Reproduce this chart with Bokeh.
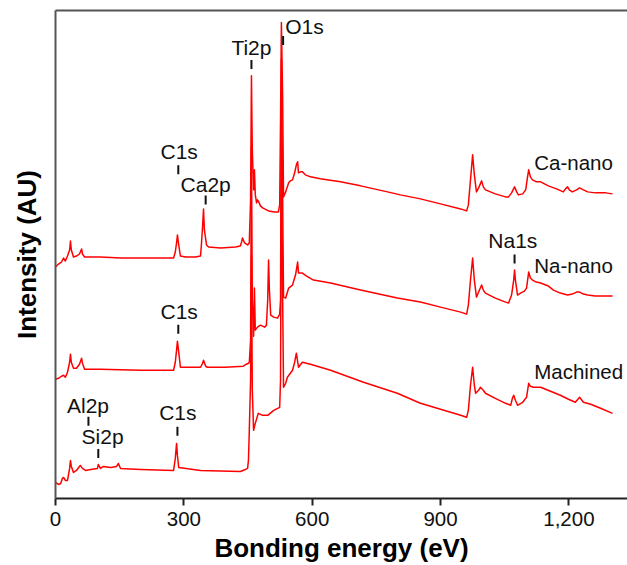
from bokeh.plotting import figure
from bokeh.models import Range1d, LinearAxis, FixedTicker, NumeralTickFormatter, ColumnDataSource
from bokeh.core.properties import value
from bokeh.embed import file_html
from bokeh.resources import INLINE
import numpy as np

# (binding energy eV, intensity AU)
ca_nano = [(0,231),(7,234),(14,236),(19,240),(23,237),(28,242),(33,248),(35,257),(37,248),(42,241),
           (49,242),(56,244),(61,249),(63,244),(68,241),(82,241),(105,241),(152,240),(199,240),(245,240),
           (276,240),(280,246),(283,255),(285,263),(288,253),(292,242),(304,241),(327,241),(339,242),(341,253),
           (344,273),(346,289),(348,268),(353,253),(358,251),(386,250),(421,251),(432,252),(435,256),(437,260),
           (442,255),(449,253),(453,255),(456,298),(458,422),(460,348),(463,308),(465,328),(467,303),(470,295),
           (472,298),(475,296),(479,292),(484,290),(498,287),(512,286),(521,286),(524,293),(526,378),(528,475),
           (531,398),(533,301),(538,306),(545,315),(549,317),(554,318),(559,325),(563,333),(566,336),(568,325),
           (573,326),(577,326),(584,323),(596,321),(619,319),(666,316),(713,312),(776,306),(806,303),(853,299),
           (900,294),(947,289),(961,287),(965,293),(970,318),(975,343),(979,323),(984,306),(989,310),(996,317),
           (1000,311),(1005,308),(1028,304),(1052,301),(1059,301),(1066,305),(1073,311),(1078,306),(1082,303),(1092,304),
           (1099,308),(1103,320),(1106,328),(1110,321),(1115,318),(1124,316),(1134,316),(1152,312),(1171,309),(1187,306),
           (1192,309),(1197,311),(1201,308),(1208,306),(1218,308),(1225,310),(1234,308),(1244,306),(1262,305),(1286,305),
           (1302,304)]

na_nano = [(0,119),(7,120),(14,122),(19,123),(23,121),(28,126),(33,136),(35,144),(37,136),(42,130),
           (49,130),(56,134),(61,140),(63,135),(68,129),(105,129),(199,128),(276,128),(280,136),(283,148),
           (285,157),(288,146),(292,131),(316,131),(339,131),(344,135),(346,138),(351,132),(355,131),(397,131),
           (439,132),(446,134),(451,135),(453,136),(456,158),(458,351),(460,198),(463,162),(465,210),(467,168),
           (472,171),(479,173),(489,171),(493,173),(496,198),(498,238),(500,208),(503,183),(510,181),(519,180),
           (524,184),(526,198),(528,438),(531,298),(533,201),(538,200),(545,210),(554,213),(561,223),(566,236),
           (568,225),(577,225),(587,222),(603,218),(643,215),(713,208),(799,200),(853,196),(900,191),(947,186),
           (961,184),(965,193),(970,218),(975,240),(979,218),(984,201),(989,206),(996,213),(1000,208),(1005,205),
           (1028,200),(1052,196),(1059,195),(1066,203),(1071,218),(1073,228),(1075,218),(1080,203),(1087,205),(1096,207),
           (1101,210),(1106,226),(1110,220),(1115,218),(1124,216),(1134,215),(1152,212),(1164,208),(1180,205),(1197,203),
           (1208,204),(1218,206),(1225,206),(1234,204),(1244,203),(1262,202),(1286,202),(1302,202)]

machined = [(0,16),(7,14),(12,15),(16,20),(19,21),(23,18),(28,18),(33,30),(35,38),(37,32),
            (42,26),(49,28),(56,32),(58,33),(63,30),(70,28),(82,29),(98,30),(100,34),(105,30),
            (112,32),(129,31),(143,32),(147,35),(152,30),(199,29),(276,28),(280,40),(283,55),(285,43),
            (288,31),(339,28),(432,27),(444,29),(449,30),(451,38),(453,68),(456,118),(458,243),(460,108),
            (463,68),(467,75),(474,85),(484,83),(496,83),(510,88),(524,91),(526,118),(528,348),(531,198),
            (533,111),(538,115),(542,121),(554,128),(559,136),(563,145),(568,131),(577,136),(596,134),(643,128),
            (720,116),(799,105),(853,95),(900,89),(947,83),(961,81),(965,88),(970,113),(975,131),(979,113),
            (982,105),(989,108),(993,111),(1000,108),(1005,105),(1028,100),(1052,95),(1064,93),(1068,100),(1071,103),
            (1075,98),(1080,93),(1092,96),(1101,101),(1106,115),(1110,112),(1117,111),(1134,111),(1157,107),(1180,103),
            (1199,99),(1215,96),(1225,101),(1234,96),(1251,94),(1274,90),(1302,85)]

peak_names = ["Ti2p", "O1s", "C1s", "Ca2p", "C1s", "Al2p", "Si2p", "C1s", "Na1s"]
peak_mark_x = [458, 532, 287, 351, 287, 77, 100, 285, 1073]
peak_mark_y = [433, 457, 328, 298, 169, 77, 45, 67, 239]
peak_text_x = [458, 537, 289, 351, 289, 76, 110, 286, 1069]
peak_text_y = [450, 471, 346, 313, 187, 93, 62, 86, 257]
peak_text_align = ["center", "left", "center", "center", "center", "center", "center", "center", "center"]

series_names = ["Ca-nano", "Na-nano", "Machined"]
series_text_x = [1119, 1119, 1119]
series_text_y = [335, 233, 127]

x_ticks = [0, 300, 600, 900, 1200]

FONT = "Liberation Sans"
RED = "#ff0000"

p = figure(width=627, height=565, x_range=Range1d(0, 1337), y_range=Range1d(0, 487),
           output_backend="svg", toolbar_location=None,
           min_border_left=55, min_border_right=0, min_border_top=10, min_border_bottom=0)
p.xgrid.visible = False
p.ygrid.visible = False
p.outline_line_color = None
p.background_fill_color = "white"

for spec in (ca_nano, na_nano, machined):
    xs = [a for a, b in spec]
    ys = [b for a, b in spec]
    p.line(xs, ys, line_color=RED, line_width=1.5, line_join="round")

p.scatter(peak_mark_x, peak_mark_y, marker="dash", angle=np.pi / 2, size=9,
          line_color="#111111", line_width=2)

src = ColumnDataSource(dict(x=peak_text_x, y=peak_text_y, t=peak_names, a=peak_text_align))
p.text(x="x", y="y", text="t", text_align="a", source=src, text_baseline="alphabetic",
       text_font=value(FONT), text_font_size="21px", text_color="#111111")
p.text(series_text_x, series_text_y, text=series_names, text_align="left", text_baseline="alphabetic",
       text_font=value(FONT), text_font_size="20.5px", text_color="#111111")

xa = p.xaxis[0]
xa.ticker = FixedTicker(ticks=x_ticks)
xa.formatter = NumeralTickFormatter(format="0,0")
xa.axis_label = "Bonding energy (eV)"
xa.axis_label_text_font = FONT
xa.axis_label_text_font_style = "bold"
xa.axis_label_text_font_size = "26px"
xa.axis_label_text_color = "#000000"
xa.axis_label_standoff = 4
xa.major_label_text_font = FONT
xa.major_label_text_font_size = "20.5px"
xa.major_label_text_color = "#111111"
xa.major_label_standoff = 6
xa.major_tick_out = 7
xa.major_tick_in = 0
xa.major_tick_line_width = 2
xa.major_tick_line_color = "#222222"
xa.minor_tick_line_color = None
xa.axis_line_width = 2
xa.axis_line_color = "#222222"

ya = p.yaxis[0]
ya.ticker = FixedTicker(ticks=[])
ya.axis_label = "Intensity (AU)"
ya.axis_label_text_font = FONT
ya.axis_label_text_font_style = "bold"
ya.axis_label_text_font_size = "26px"
ya.axis_label_text_color = "#000000"
ya.axis_label_standoff = 14
ya.major_tick_out = 0
ya.major_tick_in = 0
ya.major_label_standoff = 0
ya.minor_tick_line_color = None
ya.major_tick_line_color = None
ya.axis_line_width = 2
ya.axis_line_color = "#555555"

top = LinearAxis(ticker=FixedTicker(ticks=[]), major_tick_out=0, major_tick_in=0,
                 major_label_standoff=0, axis_line_width=2, axis_line_color="#555555",
                 major_tick_line_color=None, minor_tick_line_color=None)
p.add_layout(top, "above")

open("out.html", "w").write(file_html(p, INLINE))
